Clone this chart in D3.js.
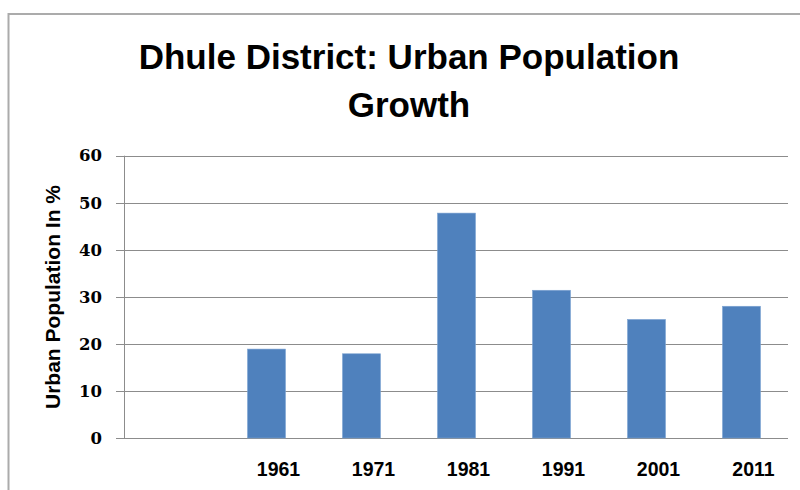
<!DOCTYPE html>
<html>
<head>
<meta charset="utf-8">
<script src="https://cdn.jsdelivr.net/npm/d3@7"></script>
<style>
  html, body { margin: 0; padding: 0; background: #fff; }
</style>
</head>
<body>
<div id="chart"></div>
<script>
// Data (first category is an empty slot)
const categories = ["", "1961", "1971", "1981", "1991", "2001", "2011"];
const urbanPct = [null, 18.9, 17.9, 47.8, 31.4, 25.2, 28.0];
const yTicks = [0, 10, 20, 30, 40, 50, 60];
const titleLines = ["Dhule District: Urban Population", "Growth"];
const yLabel = "Urban Population In %";

const W = 800, H = 490;
const plot = {left: 124, right: 789, top: 155.7, bottom: 438};

const svg = d3.select("#chart")
    .append("svg")
    .attr("width", W)
    .attr("height", H);

// chart frame (only top and left edges show in the crop)
svg.append("path")
    .attr("d", `M8.5,${H} V14 H${W}`)
    .attr("fill", "none")
    .attr("stroke", "#ababab")
    .attr("stroke-width", 2);

// Title
svg.append("g")
    .selectAll("text")
    .data(titleLines)
    .enter().append("text")
    .attr("x", 409)
    .attr("y", (d, i) => 69 + i * 47.5)
    .attr("text-anchor", "middle")
    .style("font-family", "'Liberation Sans', Arial, sans-serif")
    .style("font-weight", "bold")
    .style("font-size", "35px")
    .style("fill", "#000")
    .text(d => d);

// Scales
const x = d3.scaleBand()
    .domain(categories)
    .range([plot.left, plot.right])
    .paddingInner(0.6)
    .paddingOuter(0.3);

const y = d3.scaleLinear()
    .domain([0, 60])
    .range([plot.bottom, plot.top]);

// Gridlines + y axis ticks
const yAxis = svg.append("g")
    .attr("transform", `translate(${plot.left},0)`)
    .call(d3.axisLeft(y)
        .tickValues(yTicks)
        .tickSize(8)
        .tickPadding(14)
        .tickFormat(d3.format("d")));
yAxis.select(".domain")
    .attr("d", `M0.5,${plot.top}V${plot.bottom}`)
    .attr("stroke", "#8c8c8c");
yAxis.selectAll(".tick line").remove();
yAxis.selectAll(".tick text")
    .style("font-family", "'DejaVu Serif', serif")
    .style("font-weight", "bold")
    .style("font-size", "16.5px")
    .style("fill", "#000");

svg.append("g")
    .selectAll("line")
    .data(yTicks)
    .enter().append("line")
    .attr("x1", plot.left - 8)
    .attr("x2", plot.right - 1)
    .attr("y1", d => Math.round(y(d)) + 0.5)
    .attr("y2", d => Math.round(y(d)) + 0.5)
    .attr("stroke", "#8c8c8c")
    .attr("stroke-width", 1);

// Bars
const barData = categories.map((c, i) => ({cat: c, value: urbanPct[i]}))
    .filter(d => d.value !== null);

svg.append("g")
    .selectAll("rect")
    .data(barData)
    .enter().append("rect")
    .attr("x", d => x(d.cat))
    .attr("y", d => y(d.value))
    .attr("width", x.bandwidth())
    .attr("height", d => y(0) - y(d.value))
    .attr("fill", "#4f81bd")
    .attr("stroke", "#7ea3d2")
    .attr("stroke-width", 0.6);

// X axis labels
const xAxis = svg.append("g")
    .attr("transform", `translate(0,${plot.bottom})`)
    .call(d3.axisBottom(x).tickSize(0).tickPadding(24));
xAxis.select(".domain").remove();
xAxis.selectAll(".tick text")
    .attr("dx", 12)
    .attr("dy", "0.71em")
    .style("font-family", "'Liberation Sans', Arial, sans-serif")
    .style("font-weight", "bold")
    .style("font-size", "19.5px")
    .style("fill", "#000");

// Y axis title
svg.append("text")
    .attr("transform", `translate(60,297) rotate(-90)`)
    .attr("text-anchor", "middle")
    .style("font-family", "'Liberation Sans', Arial, sans-serif")
    .style("font-weight", "bold")
    .style("font-size", "21px")
    .style("fill", "#000")
    .text(yLabel);
</script>
</body>
</html>
